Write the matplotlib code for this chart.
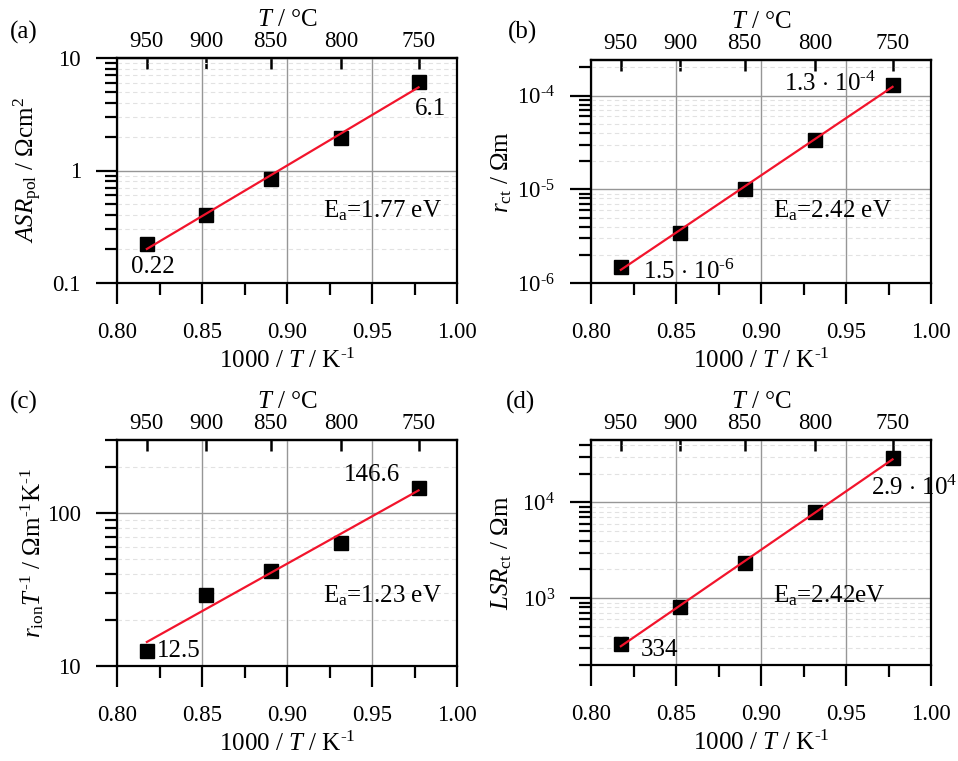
import numpy as np
import matplotlib
matplotlib.use("Agg")
import matplotlib.pyplot as plt
from matplotlib.ticker import FixedLocator, FixedFormatter, LogLocator, NullLocator, NullFormatter, MultipleLocator

plt.rcParams['font.family'] = ['Liberation Serif', 'DejaVu Serif']
plt.rcParams['mathtext.fontset'] = 'custom'
plt.rcParams['mathtext.rm'] = 'Liberation Serif'
plt.rcParams['mathtext.it'] = 'Liberation Serif:italic'
plt.rcParams['mathtext.bf'] = 'Liberation Serif:bold'

# measurement temperatures (°C)
temps_c = [950, 900, 850, 800, 750]

# (a) polarisation resistance, Ohm cm^2
asr_pol = [0.22, 0.40, 0.84, 1.95, 6.1]
# (b) charge-transfer resistance, Ohm m
r_ct = [1.5e-6, 3.45e-6, 1.02e-5, 3.4e-5, 1.3e-4]
# (c) ionic resistance over T
r_ion_T = [12.5, 29.0, 42.0, 63.5, 146.6]
# (d) line-specific charge-transfer resistance, Ohm m
lsr_ct = [334, 800, 2320, 7900, 2.9e4]

ea_labels = ["1.77 eV", "2.42 eV", "1.23 eV", "2.42eV"]
panel_tags = ["(a)", "(b)", "(c)", "(d)"]
ylabels = [r"$ASR_{\rm pol}$ / Ωcm$^2$",
           r"$r_{\rm ct}$ / Ωm",
           r"$r_{\rm ion}T^{\text{-}1}$ / Ωm$^{\text{-}1}$K$^{\text{-}1}$",
           r"$LSR_{\rm ct}$ / Ωm"]
ylims = [(0.1, 10), (1e-6, 2.4e-4), (10, 300), (200, 4.5e4)]
ymajor = [[0.1, 1, 10], [1e-6, 1e-5, 1e-4], [10, 100], [1e3, 1e4]]
ymajor_labels = [["0.1", "1", "10"],
                 [r"10$^{\text{-}6}$", r"10$^{\text{-}5}$", r"10$^{\text{-}4}$"],
                 ["10", "100"],
                 [r"10$^{3}$", r"10$^{4}$"]]
xticks = [0.80, 0.85, 0.90, 0.95, 1.00]
top_ticks = [950, 900, 850, 800, 750]

# value labels: (text, index of point, offset in points, ha)
value_labels = [
    [("0.22", 0, (4.5, -20.5), "center"), ("6.1", 4, (8.5, -23.5), "center")],
    [(r"1.5 $\cdot$ 10$^{\text{-}6}$", 0, (16, -9), "left"),
     (r"1.3 $\cdot$ 10$^{\text{-}4}$", 4, (-12, -4.5), "right")],
    [("12.5", 0, (7, -4), "left"), ("146.6", 4, (-13, 4.5), "right")],
    [("334", 0, (14.5, -9), "left"), (r"2.9 $\cdot$ 10$^{4}$", 4, (-15.5, -26.5), "left")],
]
ea_pos = [(0.606, 0.293), (0.535, 0.296), (0.606, 0.28), (0.535, 0.277)]
ylabel_x = [-0.215, -0.225, -0.209, -0.225]

W, H = 958, 761
# axes boxes in pixels: left, right, top, bottom
boxes = [(117, 457, 58, 283), (591, 931, 60, 283), (117, 457, 440, 666), (591, 931, 440, 665)]
tag_pos = [(10, 32), (508, 32), (10, 402), (506, 402)]

x_inv = 1000.0 / (np.array(temps_c) + 273.15)


def k_to_c(x):
    x = np.asarray(x, dtype=float)
    with np.errstate(divide='ignore', invalid='ignore'):
        return 1000.0 / x - 273.15


def c_to_k(t):
    t = np.asarray(t, dtype=float)
    with np.errstate(divide='ignore', invalid='ignore'):
        return 1000.0 / (t + 273.15)


fig = plt.figure(figsize=(W / 100, H / 100), dpi=100)
datasets = [asr_pol, r_ct, r_ion_T, lsr_ct]
red = '#f2142c'
fs_tick = 16.5
fs_label = 18
fs_note = 18

for i, data in enumerate(datasets):
    l, r, t, b = boxes[i]
    ax = fig.add_axes([l / W, 1 - b / H, (r - l) / W, (b - t) / H])
    y = np.array(data)
    ax.set_yscale('log')
    ax.set_xlim(0.80, 1.00)
    ax.set_ylim(*ylims[i])

    # Arrhenius fit in log space
    p = np.polyfit(x_inv, np.log10(y), 1)
    xf = np.array([x_inv[0], x_inv[-1]])
    ax.plot(x_inv, y, 's', color='black', ms=10.5, zorder=3, clip_on=False)
    ax.plot(xf, 10 ** np.polyval(p, xf), '-', color=red, lw=1.6, zorder=4)

    ax.xaxis.set_major_locator(FixedLocator(xticks))
    ax.xaxis.set_major_formatter(FixedFormatter(["%.2f" % v for v in xticks]))
    ax.xaxis.set_minor_locator(MultipleLocator(0.025))
    ax.yaxis.set_major_locator(FixedLocator(ymajor[i]))
    ax.yaxis.set_major_formatter(FixedFormatter(ymajor_labels[i]))
    ax.yaxis.set_minor_locator(LogLocator(base=10, subs=np.arange(2, 10), numticks=20))
    ax.yaxis.set_minor_formatter(NullFormatter())

    ax.grid(which='major', axis='both', color='#969696', lw=1.0, zorder=0)
    ax.grid(which='minor', axis='y', color='#e2e2e2', lw=0.8, ls=(0, (4, 3)), zorder=0)
    ax.grid(which='minor', axis='x', visible=False)
    ax.set_axisbelow(True)

    for s in ax.spines.values():
        s.set_linewidth(1.6)
    ax.tick_params(axis='both', which='major', direction='out', length=15, width=1.6,
                   labelsize=fs_tick, top=False, right=False)
    ax.tick_params(axis='both', which='minor', direction='out', length=8.5, width=1.6,
                   top=False, right=False)
    ax.tick_params(axis='x', which='major', pad=13)
    ax.tick_params(axis='y', which='major', pad=11)

    ax.set_xlabel(r"1000 / $T$ / K$^{\text{-}1}$", fontsize=fs_label, labelpad=4)
    ax.set_ylabel(ylabels[i], fontsize=fs_label)
    ax.yaxis.set_label_coords(ylabel_x[i], 0.5)

    sec = ax.secondary_xaxis('top', functions=(k_to_c, c_to_k))
    sec.set_xticks(top_ticks)
    sec.set_xticklabels([str(v) for v in top_ticks])
    sec.xaxis.set_minor_locator(NullLocator())
    sec.tick_params(direction='in', length=8, width=1.8, pad=4, labelsize=fs_tick)
    sec.spines['top'].set_linewidth(1.6)
    sec.set_xlabel(r"$T$ / °C", fontsize=fs_label, labelpad=4)

    for txt, idx, off, ha in value_labels[i]:
        ax.annotate(txt, xy=(x_inv[idx], y[idx]), xytext=off, textcoords='offset points',
                    ha=ha, va='baseline', fontsize=fs_note, zorder=5)

    ax.text(ea_pos[i][0], ea_pos[i][1], "E$_{\\rm a}$=" + ea_labels[i], transform=ax.transAxes,
            ha='left', va='baseline', fontsize=fs_note, zorder=5)

    fig.text(tag_pos[i][0] / W, 1 - tag_pos[i][1] / H, panel_tags[i], ha='left', va='center',
             fontsize=fs_label)

fig.savefig("out.png", dpi=100)
